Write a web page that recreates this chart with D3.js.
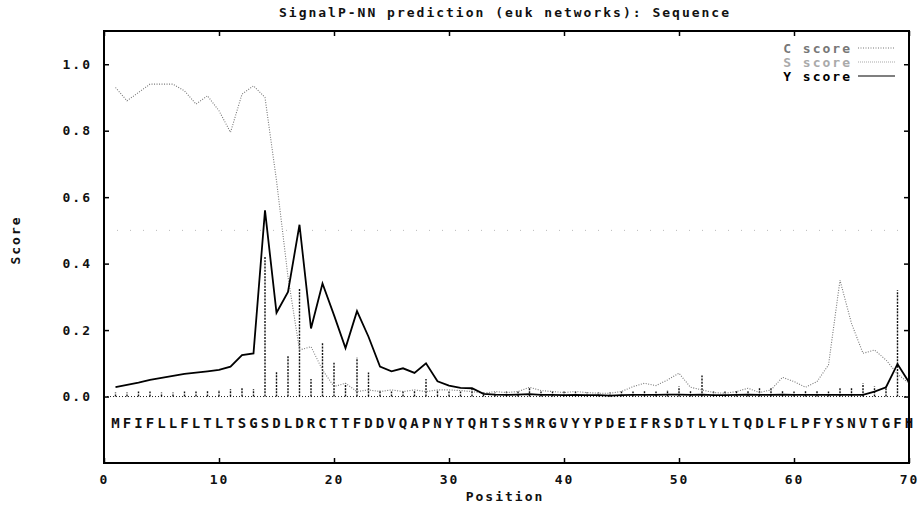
<!DOCTYPE html>
<html>
<head>
<meta charset="utf-8">
<script src="https://cdn.jsdelivr.net/npm/d3@7"></script>
<style>
  body { margin: 0; background: #fff; }
  text { font-family: "DejaVu Sans Mono", "Liberation Mono", monospace; font-weight: bold; font-size: 13px; letter-spacing: 2px; fill: #111; }
</style>
</head>
<body>
<div id="chart"></div>
<script>
// data, one value per residue 1..70
var sequence = "MFIFLLFLTLTSGSDLDRCTTFDDVQAPNYTQHTSSMRGVYYPDEIFRSDTLYLTQDLFLPFYSNVTGFH";

var cScore = [0.012, 0.012, 0.015, 0.015, 0.012, 0.012, 0.015, 0.015, 0.018, 0.02,
  0.022, 0.025, 0.022, 0.42, 0.077, 0.122, 0.326, 0.053, 0.162, 0.102,
  0.04, 0.117, 0.072, 0.02, 0.015, 0.015, 0.018, 0.053, 0.02, 0.015,
  0.015, 0.025, 0.012, 0.012, 0.015, 0.015, 0.028, 0.015, 0.015, 0.015,
  0.015, 0.012, 0.012, 0.012, 0.015, 0.015, 0.018, 0.015, 0.02, 0.03,
  0.018, 0.063, 0.015, 0.015, 0.018, 0.018, 0.025, 0.025, 0.018, 0.015,
  0.018, 0.018, 0.015, 0.025, 0.025, 0.04, 0.03, 0.03, 0.32, 0.04];

var sScore = [0.93, 0.89, 0.915, 0.94, 0.94, 0.94, 0.92, 0.88, 0.905, 0.86,
  0.795, 0.91, 0.935, 0.9, 0.65, 0.36, 0.14, 0.15, 0.08, 0.03,
  0.04, 0.015, 0.02, 0.015, 0.02, 0.015, 0.02, 0.015, 0.02, 0.02,
  0.018, 0.015, 0.01, 0.015, 0.012, 0.015, 0.028, 0.018, 0.015, 0.012,
  0.015, 0.012, 0.01, 0.01, 0.015, 0.03, 0.04, 0.033, 0.05, 0.07,
  0.028, 0.02, 0.012, 0.01, 0.015, 0.025, 0.012, 0.02, 0.058, 0.045,
  0.028, 0.045, 0.095, 0.35, 0.22, 0.13, 0.14, 0.11, 0.068, 0.04];

var yScore = [0.028, 0.035, 0.042, 0.05, 0.056, 0.062, 0.068, 0.072, 0.076, 0.08,
  0.09, 0.125, 0.13, 0.56, 0.252, 0.315, 0.517, 0.205, 0.34, 0.245,
  0.146, 0.257, 0.18, 0.09, 0.076, 0.085, 0.071, 0.1, 0.046, 0.033,
  0.026, 0.025, 0.008, 0.006, 0.005, 0.006, 0.007, 0.005, 0.005, 0.004,
  0.005, 0.004, 0.004, 0.003, 0.004, 0.005, 0.005, 0.005, 0.006, 0.006,
  0.005, 0.006, 0.004, 0.004, 0.005, 0.006, 0.005, 0.005, 0.006, 0.005,
  0.005, 0.005, 0.005, 0.005, 0.005, 0.005, 0.015, 0.028, 0.098, 0.043];

var xTicks = [0, 10, 20, 30, 40, 50, 60, 70];
var yTicks = [0, 0.2, 0.4, 0.6, 0.8, 1.0];
var cutoff = 0.5;

var legendItems = [
  { name: "C score", color: "#777", dash: "1,1.5" },
  { name: "S score", color: "#aaa", dash: "1,1" },
  { name: "Y score", color: "#000", dash: null }
];

var W = 919, H = 508;
var svg = d3.select('#chart').append('svg')
  .attr('width', W)
  .attr('height', H);

var x = d3.scaleLinear().domain([0, 70]).range([104, 909]);
var y = d3.scaleLinear().domain([-0.2, 1.1]).range([463, 31]);

var pos = d3.range(1, 71);

// cutoff and zero lines
svg.append('line')
  .attr('x1', x(0)).attr('x2', x(70))
  .attr('y1', y(cutoff)).attr('y2', y(cutoff))
  .attr('stroke', '#bbb').attr('stroke-dasharray', '1,12');
svg.append('line')
  .attr('x1', x(0)).attr('x2', x(70))
  .attr('y1', y(0)).attr('y2', y(0))
  .attr('stroke', '#222').attr('stroke-dasharray', '1,2');

// C score as impulses
svg.selectAll('line.c').data(pos)
  .enter().append('line')
  .attr('class', 'c')
  .attr('x1', function (d) { return x(d); })
  .attr('x2', function (d) { return x(d); })
  .attr('y1', y(0))
  .attr('y2', function (d) { return y(cScore[d - 1]); })
  .attr('stroke', '#111')
  .attr('stroke-width', 1.4)
  .attr('stroke-dasharray', '2,1.2');

// S score
svg.append('path')
  .datum(pos)
  .attr('fill', 'none')
  .attr('stroke', '#777')
  .attr('stroke-width', 1.1)
  .attr('stroke-dasharray', '1,1.5')
  .attr('d', d3.line().x(function (d) { return x(d); }).y(function (d) { return y(sScore[d - 1]); }));

// Y score
svg.append('path')
  .datum(pos)
  .attr('fill', 'none')
  .attr('stroke', '#000')
  .attr('stroke-width', 1.8)
  .attr('d', d3.line().x(function (d) { return x(d); }).y(function (d) { return y(yScore[d - 1]); }));

// sequence letters under the zero line
svg.selectAll('text.seq').data(pos)
  .enter().append('text')
  .attr('class', 'seq')
  .attr('x', function (d) { return x(d); })
  .attr('y', y(-0.08))
  .attr('dy', '0.36em')
  .attr('text-anchor', 'middle')
  .style('letter-spacing', '0px')
  .style('font-size', '14px')
  .text(function (d) { return sequence[d - 1]; });

// axes, ticks point inward
var fmt = d3.format('.1f');
svg.append('g')
  .attr('transform', 'translate(' + x(0) + ',0)')
  .call(d3.axisLeft(y).tickValues(yTicks).tickFormat(fmt).tickSize(-5).tickPadding(12));
svg.append('g')
  .attr('transform', 'translate(' + x(70) + ',0)')
  .call(d3.axisRight(y).tickValues(yTicks).tickFormat('').tickSize(-5));
svg.append('g')
  .attr('transform', 'translate(0,' + y(-0.2) + ')')
  .call(d3.axisBottom(x).tickValues(xTicks).tickFormat(d3.format('d')).tickSize(-5).tickPadding(12));
svg.append('g')
  .attr('transform', 'translate(0,' + y(1.1) + ')')
  .call(d3.axisTop(x).tickValues(xTicks).tickFormat('').tickSize(-5));

svg.selectAll('.domain').remove();
svg.selectAll('.tick line').attr('stroke', '#000').attr('stroke-width', 1.5);
svg.selectAll('.tick text').style('font-size', '13px').attr('fill', '#111');

// frame
svg.append('rect')
  .attr('x', x(0)).attr('y', y(1.1))
  .attr('width', x(70) - x(0)).attr('height', y(-0.2) - y(1.1))
  .attr('fill', 'none').attr('stroke', '#000').attr('stroke-width', 2);

// titles
svg.append('text')
  .attr('x', 505).attr('y', 17)
  .attr('text-anchor', 'middle')
  .text('SignalP-NN prediction (euk networks): Sequence');
svg.append('text')
  .attr('x', 505).attr('y', 501)
  .attr('text-anchor', 'middle')
  .text('Position');
svg.append('text')
  .attr('transform', 'translate(20,240) rotate(-90)')
  .attr('text-anchor', 'middle')
  .text('Score');

// legend
var leg = svg.selectAll('g.leg').data(legendItems)
  .enter().append('g')
  .attr('class', 'leg')
  .attr('transform', function (d, i) { return 'translate(0,' + (48 + i * 14) + ')'; });
leg.append('text')
  .attr('x', 852).attr('dy', '0.36em')
  .attr('text-anchor', 'end')
  .style('fill', function (d) { return d.color; })
  .text(function (d) { return d.name; });
leg.append('line')
  .attr('x1', 858).attr('x2', 895)
  .attr('stroke', function (d) { return d.color; })
  .attr('stroke-width', 1.2)
  .attr('stroke-dasharray', function (d) { return d.dash; });
</script>
</body>
</html>
